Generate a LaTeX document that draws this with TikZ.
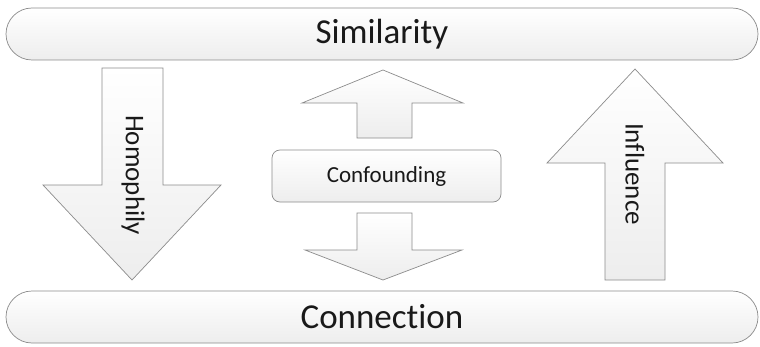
\documentclass[tikz,border=0pt]{standalone}
\usepackage{fontspec}
\setmainfont[Ligatures=NoCommon]{Carlito}
\begin{document}
\begin{tikzpicture}[
  x=1pt,y=1pt,
  bar/.style={draw=black!45,line width=0.7pt,rounded corners=26pt,
    top color=white,bottom color=black!7,minimum width=752pt,
    minimum height=52pt,font=\fontsize{35}{40}\selectfont,text=black!90},
  box/.style={draw=black!45,line width=0.7pt,rounded corners=8pt,
    top color=white,bottom color=black!7,minimum width=229pt,
    minimum height=52pt,font=\fontsize{23}{27}\selectfont,text=black!90},
  blockarrow/.style={draw=black!45,line width=0.7pt,
    top color=white,bottom color=black!7},
  lab/.style={font=\fontsize{27}{32}\selectfont,rotate=-90,text=black!90}
]
\fill[white] (0,0) rectangle (760,346);
\useasboundingbox (0,0) rectangle (760,346);

\node[bar] (similarity) at (382,312) {Similarity};
\node[bar] (connection) at (382,29) {Connection};

% homophily, down
\draw[blockarrow] (102,278) -- (163,278) -- (163,161) -- (221,161)
  -- (132,66) -- (43,161) -- (102,161) -- cycle;
\node[lab] (homophily) at (133,171) {Homophily};

% confounding, up and down
\draw[blockarrow] (357,208) -- (412,208) -- (412,243) -- (463,243)
  -- (383,276) -- (302,243) -- (357,243) -- cycle;
\node[box] (confounding) at (386.5,170) {Confounding};
\draw[blockarrow] (357,133) -- (412,133) -- (412,96) -- (462,96)
  -- (383,66) -- (305,96) -- (357,96) -- cycle;

% influence, up
\draw[blockarrow] (605,66) -- (665,66) -- (665,183) -- (723,183)
  -- (635,277) -- (547,183) -- (605,183) -- cycle;
\node[lab] (influence) at (635,172) {Influence};
\end{tikzpicture}
\end{document}
